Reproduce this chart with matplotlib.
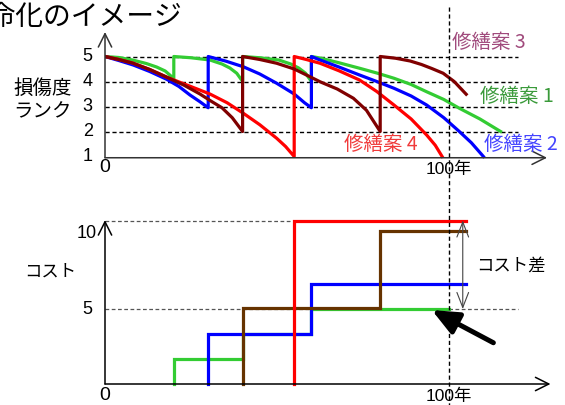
import numpy as np
import matplotlib.pyplot as plt
from matplotlib.lines import Line2D
from matplotlib.transforms import blended_transform_factory

plt.rcParams['font.family'] = ['Liberation Sans', 'Noto Sans CJK JP']
JP = ['Noto Sans CJK JP', 'Liberation Sans']

W, H = 565, 405

# 損傷度ランクの推移 (年, ランク) - 区間ごと
plan1_deg = [
    [(0, 5), (4, 4.96), (8, 4.86), (12, 4.72), (15, 4.58), (17.5, 4.42), (19.5, 4.18), (20, 4.0)],
    [(20, 5), (25, 4.95), (30.5, 4.86), (34, 4.7), (36.3, 4.54), (38.3, 4.33), (39.7, 4.06), (40, 4.0)],
    [(40, 5), (45, 4.95), (50.5, 4.86), (54, 4.7), (56.3, 4.54), (58.3, 4.33), (59.7, 4.06), (60, 4.0)],
    [(60, 5), (62.5, 4.94), (68, 4.75), (74, 4.53), (79, 4.34), (84, 4.13), (89, 3.88), (93.5, 3.59),
     (98.5, 3.28), (103, 2.93), (109, 2.5), (115, 2.0)],
]
plan2_deg = [
    [(0, 5), (4, 4.84), (8.2, 4.66), (13, 4.4), (17.9, 4.09), (21.5, 3.8), (24.7, 3.46), (27.5, 3.2),
     (30, 2.95)],
    [(30, 5), (35, 4.82), (40.2, 4.59), (45, 4.3), (49.9, 3.93), (55, 3.5), (58, 3.15), (60, 2.95)],
    [(60, 5), (62.5, 4.86), (68, 4.58), (74, 4.26), (79, 4.0), (84, 3.73), (89, 3.42), (93.5, 3.06),
     (98.5, 2.55), (103, 2.0), (106.5, 1.55), (110, 1.0)],
]
plan3_deg = [
    [(0, 5), (4, 4.88), (8, 4.74), (13, 4.48), (18, 4.17), (23, 3.85), (27.6, 3.5), (31, 3.2),
     (34, 2.95), (37, 2.55), (40, 2.0)],
    [(40, 5), (45, 4.88), (49.9, 4.73), (55, 4.5), (59.6, 4.19), (62.5, 3.99), (67.5, 3.7),
     (72.2, 3.33), (76, 2.85), (80, 2.0)],
    [(80, 5), (84.5, 4.93), (88.7, 4.82), (92, 4.68), (95, 4.52), (98.3, 4.33), (101.5, 4.0),
     (105, 3.49)],
]
plan4_deg = [
    [(0, 5), (4, 4.88), (8, 4.74), (13, 4.48), (18, 4.17), (24, 3.85), (30.5, 3.5), (35.5, 3.15),
     (40.2, 2.73), (45, 2.27), (49.9, 1.73), (52.5, 1.4), (55, 1.0)],
    [(55, 5), (58.5, 4.88), (62.5, 4.73), (68, 4.43), (74, 4.06), (79, 3.6), (84, 3.06), (89, 2.5),
     (93.5, 1.86), (96, 1.45), (98, 1.0)],
]

# 累積コスト
plan1_years = [20, 40, 60]
plan1_cost = [1.67, 3.33, 5.0]
plan1_end = 100
plan2_years = [30, 60]
plan2_cost = [3.33, 6.67]
plan2_end = 105
plan3_years = [40, 80]
plan3_cost = [5.1, 10.2]
plan3_end = 105
plan4_years = [55]
plan4_cost = [10.9]
plan4_end = 105

rank_ticks = [1, 2, 3, 4, 5]
c_green = '#33cc33'
c_blue = '#0000ff'
c_red = '#ff0000'
c_dred = '#800000'
c_brown = '#663300'

PXY = 3.44  # px per year


def box(x0, y0, x1, y1):
    return [x0 / W, 1 - y1 / H, (x1 - x0) / W, (y1 - y0) / H]


def fpx(x, y):
    return x / W, 1 - y / H


fig = plt.figure(figsize=(W / 100, H / 100), dpi=100)

# ---- 上段: 損傷度ランク
ax1 = fig.add_axes(box(105, 25, 560, 165))
ax1.set_xlim(0, 455 / PXY)
ax1.set_ylim(1 - (165 - 156.5) / 25, 1 + (156.5 - 25) / 25)
ax1.axis('off')

for r in rank_ticks:
    if r > 1:
        ax1.plot([0, 120], [r, r], color='black', lw=1, dashes=(3, 2), zorder=1)
    ax1.text(-5, r, str(r), ha='center', va='center', fontsize=13)


def deg_line(segs):
    xs, ys = [], []
    for s in segs:
        for t, r in s:
            xs.append(t)
            ys.append(r)
    return xs, ys


for segs, col in [(plan1_deg, c_green), (plan2_deg, c_blue), (plan4_deg, c_red), (plan3_deg, c_dred)]:
    xs, ys = deg_line(segs)
    ax1.plot(xs, ys, color=col, lw=2.3, solid_joinstyle='round', zorder=3)

ax1.annotate('', xy=(0, 5.98), xytext=(0, 0.95),
             arrowprops=dict(arrowstyle='->,head_length=0.8,head_width=0.4', lw=1.1,
                             color='#333333', mutation_scale=12, shrinkA=0, shrinkB=0))
ax1.annotate('', xy=(128.5, 0.95), xytext=(0, 0.95),
             arrowprops=dict(arrowstyle='->,head_length=0.8,head_width=0.4', lw=1.1,
                             color='#333333', mutation_scale=12, shrinkA=0, shrinkB=0))
ax1.text(0, 0.55, '0', ha='center', va='center', fontsize=14)
ax1.text(100, 0.5, '100年', ha='center', va='center', fontsize=12.5)

ax1.text(100.8, 5.58, '修繕案 3', family=JP, fontsize=14, color='#a04a7c', va='center')
ax1.text(109, 3.38, '修繕案 1', family=JP, fontsize=14, color='#3a9a3a', va='center')
ax1.text(69.5, 1.46, '修繕案 4', family=JP, fontsize=14, color='#f03a3a', va='center')
ax1.text(110.3, 1.46, '修繕案 2', family=JP, fontsize=14, color='#4444ff', va='center')

# ---- 下段: コスト
ax2 = fig.add_axes(box(105, 205, 560, 400))
ax2.set_xlim(0, 455 / PXY)
ax2.set_ylim((384 - 400) / 15, (384 - 205) / 15)
ax2.axis('off')

ax2.plot([0, plan4_years[0]], [plan4_cost[0], plan4_cost[0]], color='#555555', lw=0.9,
         dashes=(3, 2), zorder=1)
ax2.plot([0, 120], [5, 5], color='#555555', lw=0.9, dashes=(3, 2), zorder=1)


def step_line(years, cost, end):
    xs = [years[0]]
    ys = [0]
    for i, (t, c) in enumerate(zip(years, cost)):
        xs += [t]
        ys += [c]
        nxt = years[i + 1] if i + 1 < len(years) else end
        xs += [nxt]
        ys += [c]
    return xs, ys


for yrs, cst, end, col in [(plan1_years, plan1_cost, plan1_end, c_green),
                           (plan2_years, plan2_cost, plan2_end, c_blue),
                           (plan3_years, plan3_cost, plan3_end, c_brown),
                           (plan4_years, plan4_cost, plan4_end, c_red)]:
    xs, ys = step_line(yrs, cst, end)
    ax2.plot(xs, ys, color=col, lw=2.3, solid_joinstyle='miter', zorder=3)

ax2.annotate('', xy=(0, 10.93), xytext=(0, 0),
             arrowprops=dict(arrowstyle='->,head_length=0.8,head_width=0.4', lw=1.1,
                             color='black', mutation_scale=12, shrinkA=0, shrinkB=0))
ax2.annotate('', xy=(129.5, 0), xytext=(0, 0),
             arrowprops=dict(arrowstyle='->,head_length=0.8,head_width=0.4', lw=1.1,
                             color='black', mutation_scale=12, shrinkA=0, shrinkB=0))
ax2.text(-2.3, 10, '10', ha='right', va='center', fontsize=13)
ax2.text(-3.8, 5, '5', ha='right', va='center', fontsize=13)
ax2.text(0, -0.75, '0', ha='center', va='center', fontsize=14)
ax2.text(100, -0.85, '100年', ha='center', va='center', fontsize=12.5)

# コスト差
ax2.annotate('', xy=(104, 5.0), xytext=(104, plan4_cost[0]),
             arrowprops=dict(arrowstyle='<->,head_length=0.9,head_width=0.35', lw=0.8,
                             color='#444444', mutation_scale=12, shrinkA=0, shrinkB=0))
ax2.text(108, 7.9, 'コスト差', family=JP, fontsize=12.5, va='center')
ax2.annotate('', xy=(95, 4.93), xytext=(112.9, 2.75),
             arrowprops=dict(arrowstyle='-|>,head_length=0.8,head_width=0.35', lw=3.6,
                             color='black', mutation_scale=20, shrinkA=0, shrinkB=0))

# 100年の縦線
tr = blended_transform_factory(ax1.transData, fig.transFigure)
fig.add_artist(Line2D([100, 100], [1 - 7 / H, 0], transform=tr, color='black', lw=1,
                      dashes=(3, 2)))

# 見出し・軸名
x, y = fpx(-68, 17)
fig.text(x, y, '長寿命化のイメージ', family=JP, fontsize=20, va='center', ha='left')
x, y = fpx(43, 100)
fig.text(x, y, '損傷度\nランク', family=JP, fontsize=14, va='center', ha='center',
         linespacing=1.15)
x, y = fpx(50, 272)
fig.text(x, y, 'コスト', family=JP, fontsize=12.5, va='center', ha='center')

fig.savefig('out.png', dpi=100)
